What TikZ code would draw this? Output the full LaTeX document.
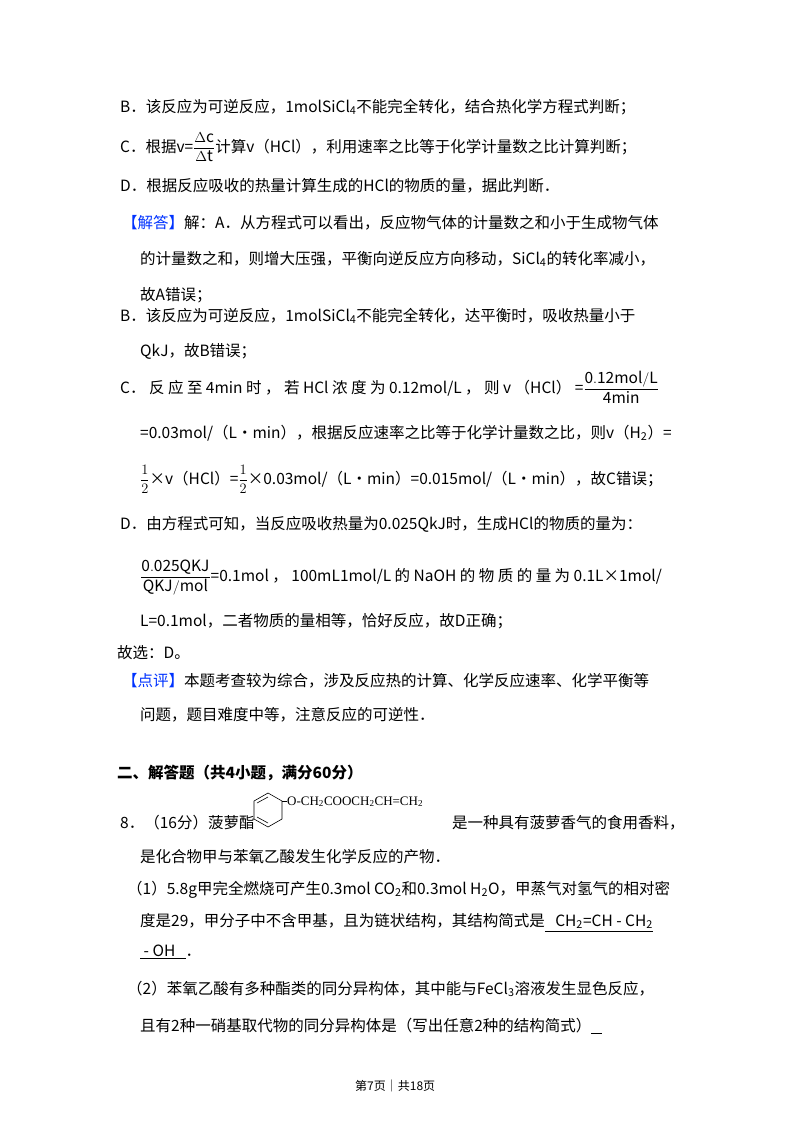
\documentclass[tikz,border=0pt]{standalone}
\usepackage{fontspec}
\usepackage{amsmath}
\setmainfont{Noto Sans CJK SC}
\newfontfamily\ser{Liberation Serif}
\begin{document}
\begin{tikzpicture}[x=1pt,y=-1pt,
  t/.style={anchor=base west,inner sep=0pt,font=\fontsize{15.5}{18}\selectfont}]
\useasboundingbox[fill=white] (0,0) rectangle (800,1132);
\node[t] (l1) at (120,112) {B．该反应为可逆反应，1molSiCl\textsubscript{4}不能完全转化，结合热化学方程式判断；};
\node[t] (l2) at (120,152) {C．根据v=$\dfrac{\Delta\mathrm{c}}{\Delta\mathrm{t}}$计算v（HCl），利用速率之比等于化学计量数之比计算判断；};
\node[t] (l3) at (120,191) {D．根据反应吸收的热量计算生成的HCl的物质的量，据此判断．};
\node[t] (l4) at (122,228) {\textcolor{blue!80!cyan}{【解答】}解：A．从方程式可以看出，反应物气体的计量数之和小于生成物气体};
\node[t] (l5) at (140,264) {的计量数之和，则增大压强，平衡向逆反应方向移动，SiCl\textsubscript{4}的转化率减小，};
\node[t] (l6) at (140,300) {故A错误；};
\node[t] (l7) at (120,321) {B．该反应为可逆反应，1molSiCl\textsubscript{4}不能完全转化，达平衡时，吸收热量小于};
\node[t] (l8) at (140,356) {QkJ，故B错误；};
\node[t] (l9) at (120,393) {C． 反 应 至 4min 时 ， 若 HCl 浓 度 为 0.12mol/L ， 则 v （HCl） =$\dfrac{\mathrm{0.12mol/L}}{\mathrm{4min}}$};
\node[t] (l10) at (140,438) {=0.03mol/（L•min），根据反应速率之比等于化学计量数之比，则v（H\textsubscript{2}）=};
\node[t] (l11) at (140,484) {$\dfrac{1}{2}$×v（HCl）=$\dfrac{1}{2}$×0.03mol/（L•min）=0.015mol/（L•min），故C错误；};
\node[t] (l12) at (120,529) {D．由方程式可知，当反应吸收热量为0.025QkJ时，生成HCl的物质的量为：};
\node[t] (l13) at (140,581) {$\dfrac{\mathrm{0.025QKJ}}{\mathrm{QKJ/mol}}$=0.1mol ， 100mL1mol/L 的 NaOH 的 物 质 的 量 为 0.1L×1mol/};
\node[t] (l14) at (140,626) {L=0.1mol，二者物质的量相等，恰好反应，故D正确；};
\node[t] (l15) at (117,658) {故选：D。};
\node[t] (l16) at (122,686) {\textcolor{blue!80!cyan}{【点评】}本题考查较为综合，涉及反应热的计算、化学反应速率、化学平衡等};
\node[t] (l17) at (140,720) {问题，题目难度中等，注意反应的可逆性．};
\node[t,font=\fontsize{15.5}{18}\selectfont\bfseries] (l18) at (117,778) {二、解答题（共4小题，满分60分）};
\node[t] (l19) at (120,828) {8．（16分）菠萝酯};
\node[t] (l19b) at (452,828) {是一种具有菠萝香气的食用香料，};
\node[t] (l20) at (140,862) {是化合物甲与苯氧乙酸发生化学反应的产物．};
\node[t] (l21) at (127,894) {（1）5.8g甲完全燃烧可产生0.3mol CO\textsubscript{2}和0.3mol H\textsubscript{2}O，甲蒸气对氢气的相对密};
\node[t] (l22) at (140,926) {度是29，甲分子中不含甲基，且为链状结构，其结构简式是\underline{\ \ \ CH\textsubscript{2}=CH - CH\textsubscript{2}}};
\node[t] (l23) at (140,956) {\underline{\ - OH\ \ \ }．};
\node[t] (l24) at (127,994) {（2）苯氧乙酸有多种酯类的同分异构体，其中能与FeCl\textsubscript{3}溶液发生显色反应，};
\node[t] (l25) at (140,1031) {且有2种一硝基取代物的同分异构体是（写出任意2种的结构简式）\underline{\ \ \ }};
\node[t,font=\fontsize{12}{14}\selectfont] (ft) at (355,1090) {第7页｜共18页};
% benzene ring
\draw[line width=0.6pt] (268,793)--(282,801)--(282,819)--(268,827)--(254,819)--(254,801)--cycle;
\draw[line width=0.6pt] (257,803)--(268,797);
\draw[line width=0.6pt] (257,817)--(268,823);
\draw[line width=0.6pt] (282,801)--(287,801);
\node[anchor=base west,inner sep=0pt,font=\ser\fontsize{13}{14}\selectfont] (sub) at (287,805) {O-CH\textsubscript{2}COOCH\textsubscript{2}CH=CH\textsubscript{2}};
\end{tikzpicture}
\end{document}
